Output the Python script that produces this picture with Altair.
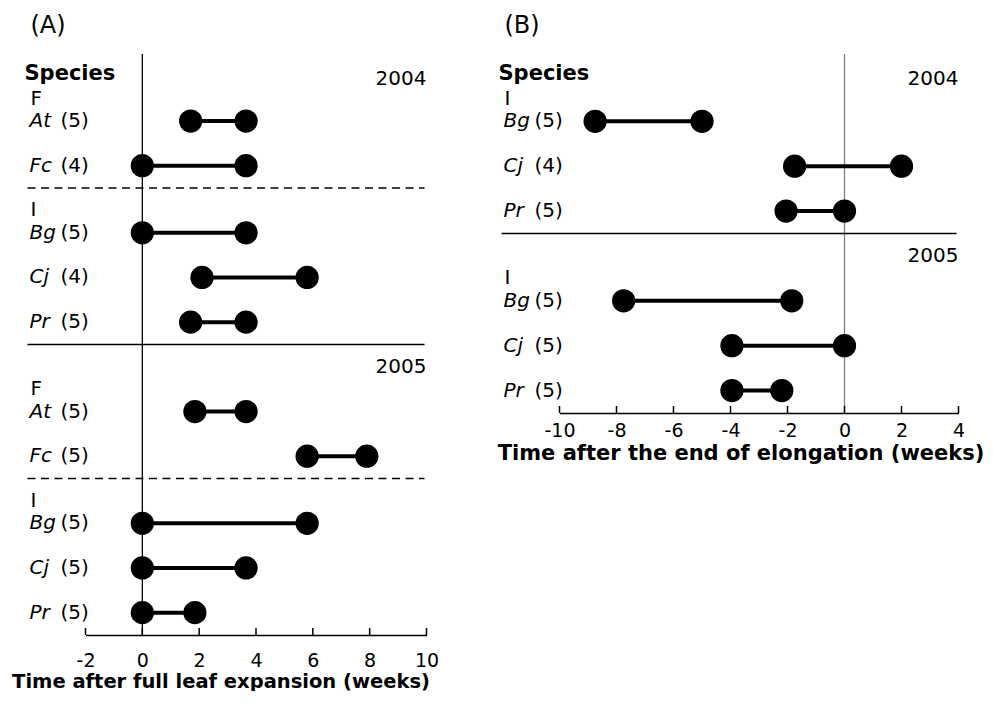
import altair as alt
import pandas as pd

FONT = "DejaVu Sans"

# ---------------- Panel A data ----------------
a_species = ["At", "Fc", "Bg", "Cj", "Pr", "At", "Fc", "Bg", "Cj", "Pr"]
a_n = ["(5)", "(4)", "(5)", "(4)", "(5)", "(5)", "(5)", "(5)", "(5)", "(5)"]
a_start = [1.7, 0.0, 0.0, 2.1, 1.7, 1.85, 5.8, 0.0, 0.0, 0.0]
a_end = [3.65, 3.65, 3.65, 5.8, 3.65, 3.65, 7.9, 5.8, 3.65, 1.85]
a_row = [3, 5, 8, 10, 12, 16, 18, 21, 23, 25]
a_groups = ["F", "I", "F", "I"]
a_group_row = [2, 7, 15, 20]
a_years = ["2004", "2005"]
a_year_row = [1.1, 14]
a_solid_row = [13]
a_dash_row = [6, 19]
a_ticks = [-2, 0, 2, 4, 6, 8, 10]

# ---------------- Panel B data ----------------
b_species = ["Bg", "Cj", "Pr", "Bg", "Cj", "Pr"]
b_n = ["(5)", "(4)", "(5)", "(5)", "(5)", "(5)"]
b_start = [-8.75, -1.75, -2.05, -7.75, -3.95, -3.95]
b_end = [-5.0, 2.0, 0.0, -1.85, 0.0, -2.2]
b_row = [3, 5, 7, 11, 13, 15]
b_groups = ["I", "I"]
b_group_row = [2, 10]
b_years = ["2004", "2005"]
b_year_row = [1.1, 9]
b_solid_row = [8]
b_dash_row = []
b_ticks = [-10, -8, -6, -4, -2, 0, 2, 4]


def panel(tag, species, n, start, end, rows, groups, group_rows, years, year_rows,
          solid_rows, dash_rows, ticks, xdom, nrows, width, height, title, title_x,
          title_size, label_pad, title_pad, zero_color):
    df = pd.DataFrame({"species": species, "n": n, "start": start, "end": end, "row": rows})
    xs = alt.Scale(domain=xdom, nice=False, zero=False)
    ys = alt.Scale(domain=[0, nrows], reverse=True, nice=False, zero=False)
    xaxis = alt.Axis(values=ticks, ticks=False, grid=False, domainColor="black", domainWidth=1.5,
                     labelFont=FONT, labelFontSize=19, labelColor="black", labelPadding=label_pad,
                     labelFlush=False, labelExpr="replace(datum.label, '\u2212', '-')",
                     title=title, titleFont=FONT, titleFontSize=title_size,
                     titleFontWeight="bold", titleColor="black", titlePadding=title_pad, titleX=title_x)
    X = lambda f: alt.X(f, type="quantitative", scale=xs, axis=xaxis)
    Y = lambda f: alt.Y(f, type="quantitative", scale=ys, axis=None)

    base = alt.Chart(df)
    zero = alt.Chart(pd.DataFrame({"z": [0]})).mark_rule(color=zero_color, strokeWidth=1.3).encode(
        x=X("z:Q"), y=alt.value(0), y2=alt.value(height))
    layers = [zero]
    if solid_rows:
        layers.append(alt.Chart(pd.DataFrame({"row": solid_rows})).mark_rule(color="black", strokeWidth=1.5).encode(
            y=Y("row:Q"), x=alt.value(-58), x2=alt.value(width - 2)))
    if dash_rows:
        layers.append(alt.Chart(pd.DataFrame({"row": dash_rows})).mark_rule(
            color="black", strokeWidth=1.5, strokeDash=[8, 5.5]).encode(
            y=Y("row:Q"), x=alt.value(-58), x2=alt.value(width - 2)))
    seg = base.mark_rule(color="black", strokeWidth=4).encode(x=X("start:Q"), x2="end:Q", y=Y("row:Q"))
    pts = base.transform_fold(["start", "end"], as_=["k", "v"]).mark_circle(
        color="black", opacity=1, size=540).encode(x=X("v:Q"), y=Y("row:Q"))
    sp = base.mark_text(font=FONT, fontSize=20, fontStyle="italic", align="left", baseline="middle",
                        color="black").encode(x=alt.value(-56), y=Y("row:Q"), text="species:N")
    nn = base.mark_text(font=FONT, fontSize=20, align="left", baseline="middle",
                        color="black").encode(x=alt.value(-25), y=Y("row:Q"), text="n:N")
    grp = alt.Chart(pd.DataFrame({"g": groups, "row": group_rows})).mark_text(
        font=FONT, fontSize=20, align="left", baseline="middle", color="black").encode(
        x=alt.value(-55), y=Y("row:Q"), text="g:N")
    yr = alt.Chart(pd.DataFrame({"y": years, "row": year_rows})).mark_text(
        font=FONT, fontSize=20, align="right", baseline="middle", color="black").encode(
        x=alt.value(width), y=Y("row:Q"), text="y:N")
    hdr = alt.Chart(pd.DataFrame({"t": ["Species"], "row": [0.9]})).mark_text(
        font=FONT, fontSize=21, fontWeight="bold", align="left", baseline="middle", color="black").encode(
        x=alt.value(-61), y=Y("row:Q"), text="t:N")
    ttl = alt.Chart(pd.DataFrame({"t": [tag]})).mark_text(
        font=FONT, fontSize=24, align="left", baseline="middle", color="black").encode(
        x=alt.value(-55), y=alt.value(-28), text="t:N")
    tk = alt.Chart(pd.DataFrame({"t": ticks})).mark_rule(color="black", strokeWidth=1.5).encode(
        x=X("t:Q"), y=alt.value(height), y2=alt.value(height - 7))
    layers += [seg, pts, sp, nn, grp, yr, hdr, ttl, tk]
    return alt.layer(*layers).properties(width=width, height=height)


pa = panel("(A)", a_species, a_n, a_start, a_end, a_row, a_groups, a_group_row, a_years, a_year_row,
           a_solid_row, a_dash_row, a_ticks, [-2, 10], 26, 341, 581,
           "Time after full leaf expansion (weeks)", 135, 19.5, 16, 2, "black")
pb = panel("(B)", b_species, b_n, b_start, b_end, b_row, b_groups, b_group_row, b_years, b_year_row,
           b_solid_row, b_dash_row, b_ticks, [-10, 4], 16, 399, 359,
           "Time after the end of elongation (weeks)", 181, 21, 8, 2, "#808080")

chart = alt.hconcat(pa, pb, spacing=57).properties(
    padding={"top": 6, "left": 3.5, "right": 0, "bottom": 0},
    background="white"
).configure_view(stroke=None)

chart.save("out.html", embed_options={"renderer": "svg", "actions": False})
